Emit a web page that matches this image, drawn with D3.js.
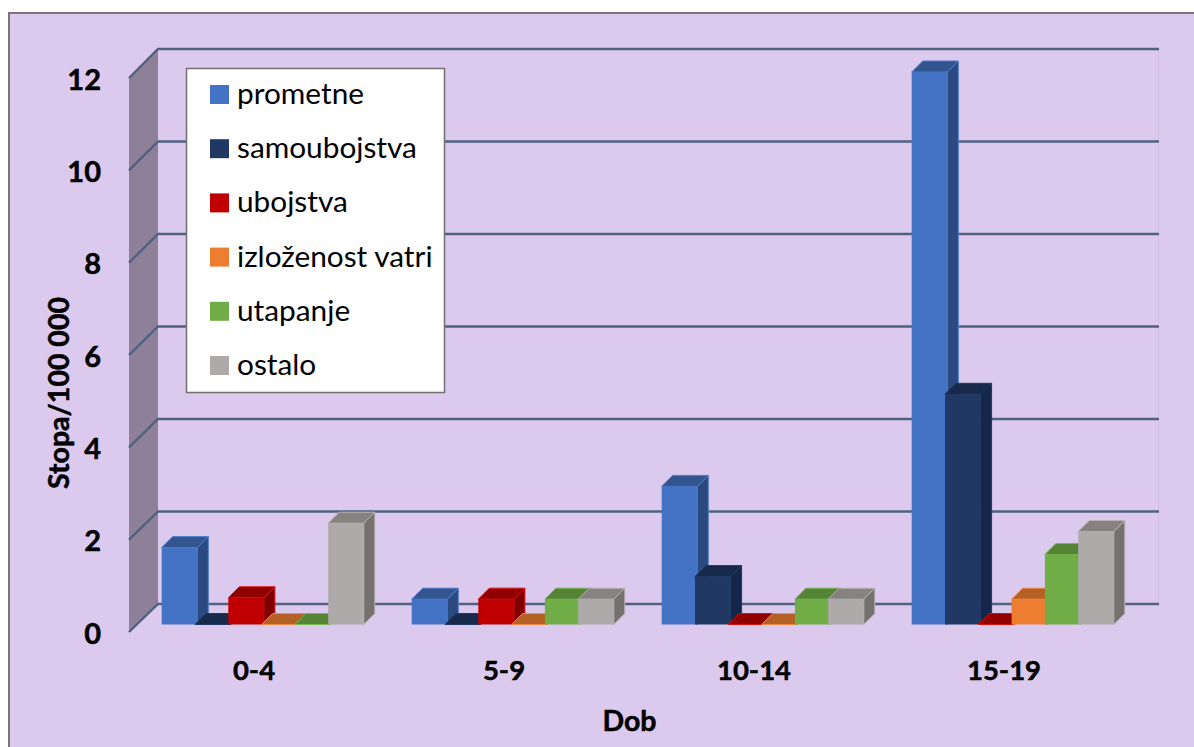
<!DOCTYPE html>
<html>
<head>
<meta charset="utf-8">
<script src="https://cdnjs.cloudflare.com/ajax/libs/d3/7.8.5/d3.min.js"></script>
<style>
  html, body { margin: 0; padding: 0; background: #fff; overflow: hidden; }
  svg { display: block; }
  .bold { font-family: Lato, "Open Sans", sans-serif; font-weight: 700; fill: #000; stroke: #000; stroke-width: 0.5px; }
  .leg { font-family: Lato, "Open Sans", sans-serif; fill: #000; }
</style>
</head>
<body>
<svg id="chart" width="1194" height="747"></svg>
<script>
const categories = ['0-4', '5-9', '10-14', '15-19'];
const seriesNames = ['prometne', 'samoubojstva', 'ubojstva', 'izloženost vatri', 'utapanje', 'ostalo'];
const prometne = [1.67, 0.55, 3, 12];
const samoubojstva = [0, 0, 1.04, 5];
const ubojstva = [0.58, 0.55, 0, 0];
const izlozenost = [0, 0, 0, 0.55];
const utapanje = [0, 0.55, 0.55, 1.52];
const ostalo = [2.2, 0.55, 0.55, 2.02];
const yTicks = [0, 2, 4, 6, 8, 10, 12];

const allValues = [prometne, samoubojstva, ubojstva, izlozenost, utapanje, ostalo];
// front, top, side, edge
const colors = [
  ['#4472c4', '#325590', '#2a4a80', '#4f7bcb'],
  ['#1f3864', '#172a4c', '#14274a', '#1f3864'],
  ['#c00000', '#900000', '#7f0000', '#d81010'],
  ['#ed7d31', '#b56024', '#a85820', '#f08a44'],
  ['#70ad47', '#568436', '#4e7a30', '#79b552'],
  ['#aeaaaa', '#858280', '#74716f', '#b8b4b4']
];

const svg = d3.select('#chart');
const depth = 11;
const wallDepth = 29;

// background frame runs off the right and bottom of the picture
svg.append('rect')
  .attr('x', 9).attr('y', 13).attr('width', 1300).attr('height', 900)
  .attr('fill', '#dccaee').attr('stroke', '#7b7672').attr('stroke-width', 2);

const yFront = d3.scaleLinear().domain([0, 12]).range([632, 78]);
const yBack = d3.scaleLinear().domain([0, 12]).range([604, 49]);
const yBar = d3.scaleLinear().domain([0, 12]).range([624.5, 72]);

const x0 = d3.scaleBand().domain(categories).range([129, 1129]).padding(0);
const barInset = 32.7;
const x1 = d3.scaleBand().domain(d3.range(6))
  .range([barInset, barInset + 199.8]);
// each bar is a little wider than its step, the next one covers the overlap
const barOverlap = 2.3;

// left wall
const wallX = 129;
svg.append('path')
  .attr('d', `M${wallX},${yFront(12)}L${wallX + wallDepth},${yBack(12)}L${wallX + wallDepth},${yBack(0)}L${wallX},${yFront(0)}Z`)
  .attr('fill', '#8e8098');

// faint right edge of back plane
svg.append('line')
  .attr('x1', 1158.5).attr('x2', 1158.5).attr('y1', yBack(12)).attr('y2', yBack(0))
  .attr('stroke', '#d3c1e4').attr('stroke-width', 1);

const gridG = svg.append('g');
yTicks.forEach(t => {
  gridG.append('path')
    .attr('d', `M${wallX},${yFront(t)}L${wallX + wallDepth},${yBack(t)}L1159,${yBack(t)}`)
    .attr('fill', 'none')
    .attr('stroke', '#4f6280')
    .attr('stroke-width', 2.4);
});

// bars, left to right so each front hides the previous side
categories.forEach((cat, c) => {
  const g = svg.append('g').attr('transform', `translate(${x0(cat)},0)`);
  allValues.forEach((vals, s) => {
    const x = x1(s), w = x1.bandwidth() + barOverlap;
    const top = yBar(vals[c]), base = yBar(0);
    const col = colors[s];
    g.append('path') // side
      .attr('d', `M${x + w},${top}L${x + w + depth},${top - depth}L${x + w + depth},${base - depth}L${x + w},${base}Z`)
      .attr('fill', col[2]).attr('stroke', col[3]).attr('stroke-width', 1);
    g.append('path') // top
      .attr('d', `M${x},${top}L${x + depth},${top - depth}L${x + w + depth},${top - depth}L${x + w},${top}Z`)
      .attr('fill', col[1]).attr('stroke', col[3]).attr('stroke-width', 1);
    if (vals[c] > 0) {
      g.append('rect') // front
        .attr('x', x).attr('y', top).attr('width', w).attr('height', base - top)
        .attr('fill', col[0]);
    }
  });
});

// y axis labels
const yAxis = d3.axisLeft(yFront).tickValues(yTicks).tickSize(0).tickPadding(0);
const yG = svg.append('g').attr('transform', 'translate(101,2)').call(yAxis);
yG.select('.domain').remove();
yG.selectAll('text').attr('class', 'bold').style('font-size', '29px')
  .attr('font-family', null).attr('fill', null);

// x axis labels
const xAxis = d3.axisBottom(x0).tickSize(0).tickPadding(0);
const xG = svg.append('g').attr('transform', 'translate(0,660)').call(xAxis);
xG.select('.domain').remove();
xG.selectAll('text').attr('class', 'bold').style('font-size', '27.5px')
  .attr('font-family', null).attr('fill', null);

svg.append('text').attr('class', 'bold')
  .attr('x', 629.5).attr('y', 731).attr('text-anchor', 'middle')
  .style('font-size', '28.5px').text('Dob');

svg.append('text').attr('class', 'bold')
  .attr('transform', 'translate(69,393) rotate(-90)')
  .attr('text-anchor', 'middle')
  .style('font-size', '28.5px').text('Stopa/100 000');

// legend
svg.append('rect')
  .attr('x', 186.5).attr('y', 68.5).attr('width', 258).attr('height', 324)
  .attr('fill', '#fff').attr('stroke', '#6f6f6f').attr('stroke-width', 1.5);
const legendY = d3.scalePoint().domain(seriesNames).range([94, 365]);
seriesNames.forEach((name, i) => {
  svg.append('rect')
    .attr('x', 210).attr('y', legendY(name) - 9).attr('width', 19).attr('height', 19)
    .attr('fill', colors[i][0]);
  svg.append('text').attr('class', 'leg')
    .attr('x', 237).attr('y', legendY(name) + 10)
    .style('font-size', '29.8px').text(name);
});
</script>
</body>
</html>
